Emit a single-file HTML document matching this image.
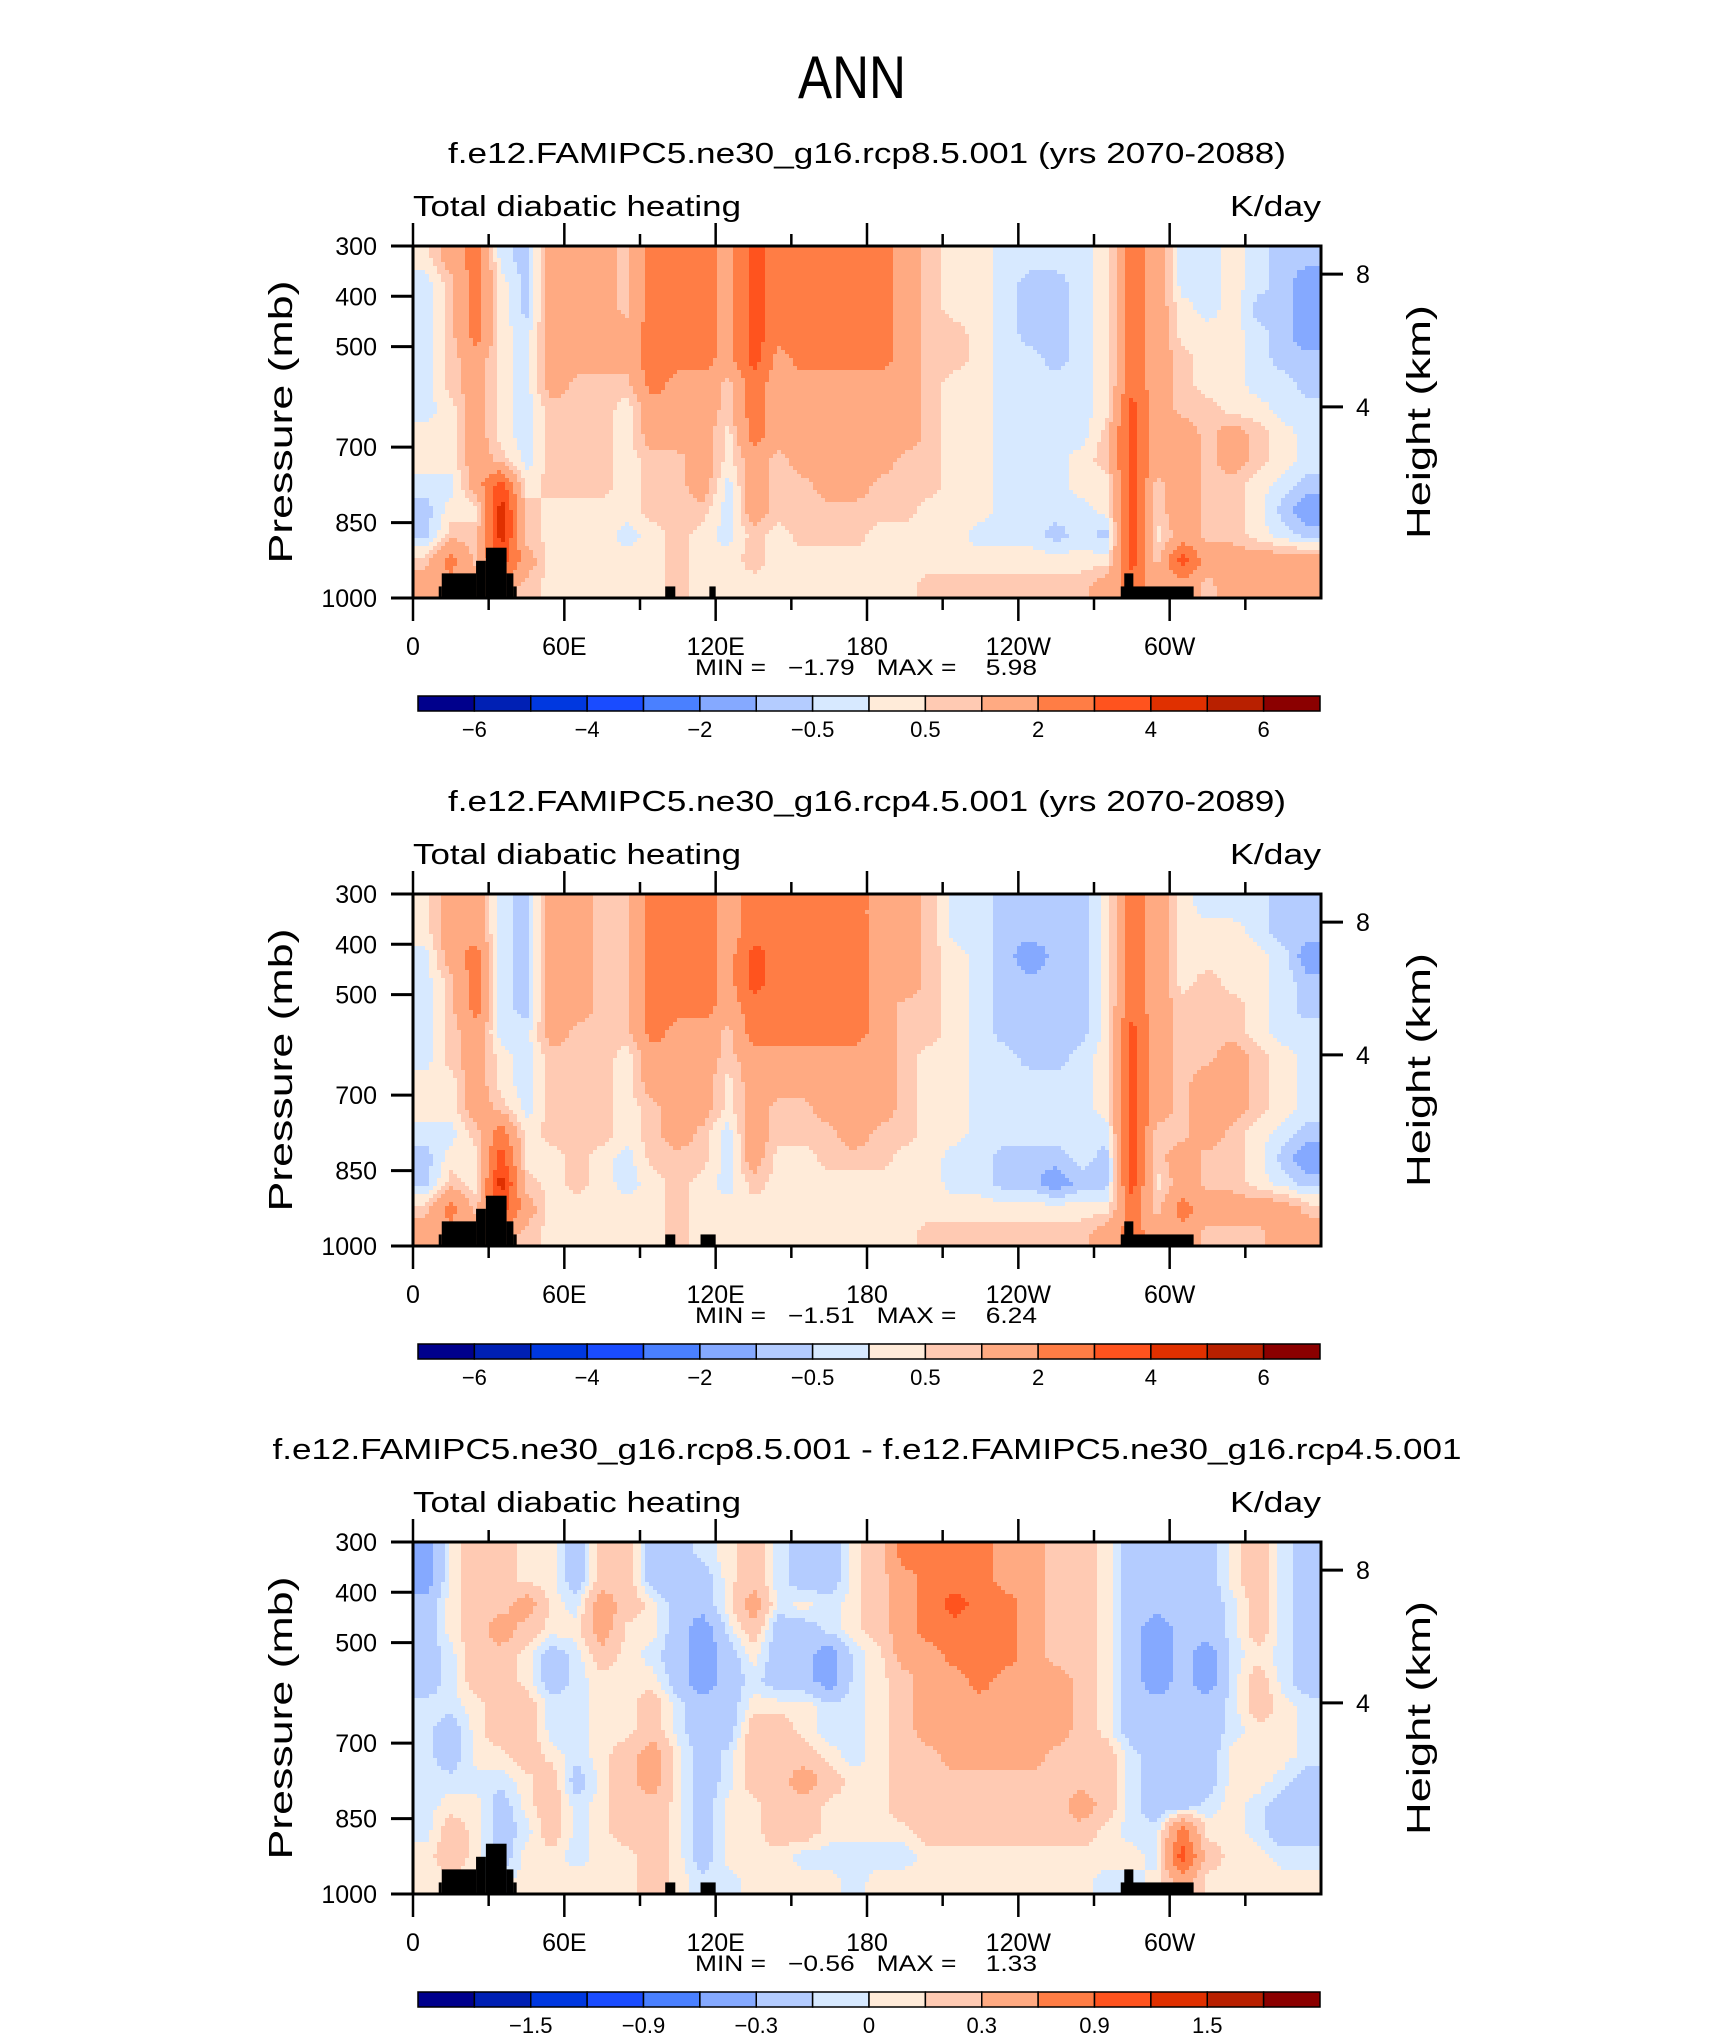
<!DOCTYPE html>
<html><head><meta charset="utf-8"><title>ANN Total diabatic heating</title>
<style>
html,body{margin:0;padding:0;background:#fff;}
svg{display:block;font-family:"Liberation Sans",sans-serif;}
</style></head>
<body>
<svg id="fig" width="1710" height="2038" viewBox="0 0 1710 2038" xmlns="http://www.w3.org/2000/svg">
<rect width="1710" height="2038" fill="#fff"/>
<text x="852" y="98" font-size="60" text-anchor="middle" textLength="108" lengthAdjust="spacingAndGlyphs" fill="#000" font-weight="normal">ANN</text>
<g id="panels"></g>
</svg>
<script>
// ---- data ----
const lonCenters = [5,15,25,35,45,55,65,75,85,95,105,115,125,135,145,155,165,175,185,195,205,215,225,235,245,255,265,275,285,295,305,315,325,335,345,355];
const presCenters = [325,375,425,475,525,575,625,675,725,775,825,875,925,975];
const levels12 = [-6,-5,-4,-3,-2,-1,-0.5,0,0.5,1,2,3,4,5,6];
const levelsDiff = [-1.8,-1.5,-1.2,-0.9,-0.6,-0.3,-0.1,0,0.1,0.3,0.6,0.9,1.2,1.5,1.8];
const cbLabels12 = ["−6","−4","−2","−0.5","0.5","2","4","6"];
const cbLabelsDiff = ["−1.5","−0.9","−0.3","0","0.3","0.9","1.5"];
const xTickLons = [0,60,120,180,240,300];
const xTickLabels = ["0","60E","120E","180","120W","60W"];
const pTicks = [300,400,500,700,850,1000];
const zTicks = [8,4];
const zTickPres = [356,620];
const colors = ['#00008c','#0020b4','#0038e0','#1a4cff','#4a80ff','#85a9ff','#b4ccff','#d7e9ff','#ffebd9','#ffcab3','#ffaa82','#ff7d45','#ff531e','#e03000','#b82000','#8b0000'];
const titles = ["f.e12.FAMIPC5.ne30_g16.rcp8.5.001 (yrs 2070-2088)","f.e12.FAMIPC5.ne30_g16.rcp4.5.001 (yrs 2070-2089)","f.e12.FAMIPC5.ne30_g16.rcp8.5.001 - f.e12.FAMIPC5.ne30_g16.rcp4.5.001"];
const minVals = [-1.79,-1.51,-0.56];
const maxVals = [5.98,6.24,1.33];
const topoLon0A = [10.2,11.4,25,28.9,37.1,39.8,100,117.5,280.6,282];
const topoLon1A = [11.4,25,28.9,37.1,39.8,41.1,104,120,309.5,285.6];
const topoPA = [977,951,926,900,951,977,977,977,977,951];
const topoLon0B = [10.2,11.4,25,28.9,37.1,39.8,100,114,280.6,282];
const topoLon1B = [11.4,25,28.9,37.1,39.8,41.1,104,120,309.5,285.6];
const topoPB = [977,951,926,900,951,977,977,977,977,951];

const field1 = [
[.25,1.5,2.5,-.25,-.75,1.5,1.5,1.5,.75,2.5,2.5,2.5,1.5,3.5,2.5,2.5,2.5,2.5,2.5,1.5,.75,.25,.25,-.25,-.25,-.25,-.25,.25,2.5,1.5,-.25,-.25,.25,-.25,-.75,-.75],
[-.25,.75,2.5,.25,-.75,1.5,1.5,1.5,.75,2.5,2.5,2.5,1.5,3.5,2.5,2.5,2.5,2.5,2.5,1.5,.75,.25,.25,-.25,-.75,-.75,-.25,.25,2.5,1.5,-.25,-.25,.25,-.25,-.75,-1.5],
[-.25,.75,2.5,.25,-.75,1.5,1.5,1.5,.75,2.5,2.5,2.5,1.5,3.5,2.5,2.5,2.5,2.5,2.5,1.5,.75,.25,.25,-.25,-.75,-.75,-.25,.25,2.5,1.5,.25,-.25,.25,-.75,-.75,-1.5],
[-.25,.75,2.5,.25,-.25,1.5,1.5,1.5,1.5,2.5,2.5,2.5,1.5,3.5,2.5,2.5,2.5,2.5,2.5,1.5,.75,.75,.25,-.25,-.75,-.75,-.25,.25,2.5,1.5,.25,.25,.25,-.25,-.75,-1.5],
[-.25,.75,1.5,.25,-.25,1.5,1.5,1.5,1.5,2.5,2.5,2.5,1.5,3.5,1.5,2.5,2.5,2.5,2.5,1.5,.75,.75,.25,-.25,-.25,-.75,-.25,.25,2.5,1.5,.75,.25,.25,-.25,-.75,-.75],
[-.25,.75,1.5,.25,-.25,1.5,.75,.75,.75,2.5,1.5,1.5,.75,2.5,1.5,1.5,1.5,1.5,1.5,1.5,.75,.25,.25,-.25,-.25,-.25,-.25,.25,2.5,1.5,.75,.25,.25,-.25,-.25,-.75],
[-.25,.25,1.5,.25,-.25,.75,.75,.75,.25,1.5,1.5,1.5,.75,2.5,1.5,1.5,1.5,1.5,1.5,1.5,.75,.25,.25,-.25,-.25,-.25,-.25,.25,3.5,1.5,.75,.75,.25,.25,-.25,-.25],
[.25,.25,1.5,.25,-.25,.75,.75,.75,.25,1.5,1.5,1.5,.25,2.5,1.5,1.5,1.5,1.5,1.5,1.5,.75,.25,.25,-.25,-.25,-.25,-.25,.75,3.5,1.5,1.5,.75,1.5,.75,.25,-.25],
[.25,.25,1.5,.75,-.25,.75,.75,.75,.25,.75,.75,1.5,.25,1.5,.75,1.5,1.5,1.5,1.5,.75,.75,.25,.25,-.25,-.25,-.25,.25,.75,3.5,1.5,1.5,.75,1.5,.75,.25,-.25],
[-.25,-.25,1.5,3.5,.25,.75,.75,.75,.25,.75,.75,1.5,-.25,1.5,.75,.75,1.5,1.5,.75,.75,.75,.25,.25,-.25,-.25,-.25,.25,.25,3.5,.75,1.5,.75,.75,.25,-.25,-.75],
[-.75,.25,.25,4.5,.75,.25,.25,.25,.25,.75,.75,.75,-.25,1.5,.75,.75,.75,.75,.75,.75,.25,.25,.25,-.25,-.25,-.25,-.25,.25,3.5,.75,1.5,.75,.75,.25,-.75,-1.5],
[-.75,.75,.75,4.5,.75,.25,.25,.25,-.25,.25,.75,.25,-.25,.75,.25,.75,.75,.75,.25,.25,.25,.25,-.25,-.25,-.25,-.75,-.25,-.75,3.5,.25,1.5,.75,.75,.25,-.25,-.75],
[.75,2.5,.75,3.5,1.5,.25,.25,.25,.25,.25,.75,.25,.25,.75,.25,.25,.25,.25,.25,.25,.25,.25,.25,.25,.25,.25,.25,.25,3.5,.75,3.5,1.5,1.5,1.5,1.5,1.5],
[1.5,1.5,1.5,1.5,.75,.25,.25,.25,.25,.25,.75,.25,.25,.25,.25,.25,.25,.25,.25,.25,.75,.75,.75,.75,.75,.75,.75,1.5,2.5,1.5,1.5,.75,1.5,1.5,1.5,1.5]
];
const field2 = [
[.25,1.5,1.5,-.25,-.75,1.5,1.5,.75,.75,2.5,2.5,2.5,1.5,2.5,2.5,2.5,2.5,2.5,1.5,1.5,.75,-.25,-.25,-.75,-.75,-.75,-.75,.25,2.5,1.5,.25,-.25,-.25,-.25,-.75,-.75],
[.25,1.5,1.5,-.25,-.75,1.5,1.5,.75,.75,2.5,2.5,2.5,1.5,2.5,2.5,2.5,2.5,2.5,1.5,1.5,.75,-.25,-.25,-.75,-.75,-.75,-.75,.25,2.5,1.5,.25,.25,.25,-.25,-.75,-.75],
[-.25,1.5,2.5,-.25,-.75,1.5,1.5,.75,.75,2.5,2.5,2.5,1.5,3.5,2.5,2.5,2.5,2.5,1.5,1.5,.75,.25,-.25,-.75,-1.5,-.75,-.75,.25,2.5,1.5,.25,.25,.25,.25,-.25,-1.5],
[-.25,.75,2.5,-.25,-.75,1.5,1.5,.75,.75,2.5,2.5,2.5,1.5,3.5,2.5,2.5,2.5,2.5,1.5,1.5,.75,.25,-.25,-.75,-.75,-.75,-.75,.25,2.5,1.5,.25,.75,.25,.25,-.25,-.75],
[-.25,.75,2.5,-.25,-.75,1.5,1.5,.75,.75,2.5,2.5,2.5,1.5,2.5,2.5,2.5,2.5,2.5,1.5,.75,.75,.25,-.25,-.75,-.75,-.75,-.75,.25,2.5,1.5,.75,.75,.75,.25,-.25,-.75],
[-.25,.75,1.5,-.25,-.25,1.5,.75,.75,.75,2.5,1.5,1.5,.75,2.5,2.5,2.5,2.5,2.5,1.5,.75,.75,.25,-.25,-.75,-.75,-.75,-.75,.25,3.5,1.5,.75,.75,.75,.25,-.25,-.25],
[-.25,.75,1.5,.25,-.25,.75,.75,.75,.25,1.5,1.5,1.5,.75,1.5,1.5,1.5,1.5,1.5,1.5,.75,.25,.25,-.25,-.25,-.75,-.75,-.25,.25,3.5,1.5,.75,.75,1.5,.75,.25,-.25],
[.25,.25,1.5,.25,-.25,.75,.75,.75,.25,1.5,1.5,1.5,.25,1.5,1.5,1.5,1.5,1.5,1.5,.75,.25,.25,-.25,-.25,-.25,-.25,-.25,.25,3.5,1.5,.75,1.5,1.5,.75,.25,-.25],
[.25,.25,1.5,.75,-.25,.75,.75,.75,.25,.75,1.5,1.5,.25,1.5,.75,.75,1.5,1.5,1.5,.75,.25,.25,-.25,-.25,-.25,-.25,-.25,.25,3.5,1.5,.75,1.5,1.5,.75,.25,-.25],
[-.25,-.25,.75,2.5,.25,.75,.75,.75,.25,.75,1.5,.75,-.25,1.5,.75,.75,.75,1.5,.75,.75,.25,.25,-.25,-.25,-.25,-.25,-.25,-.25,3.5,.75,.75,1.5,.75,.25,-.25,-.75],
[-.75,.25,.25,3.5,.25,.25,.75,.25,-.25,.75,.75,.75,-.25,1.5,.25,.25,.75,.75,.75,.25,.25,-.25,-.25,-.75,-.75,-.75,-.25,-.75,3.5,.75,1.5,.75,.75,.25,-.75,-1.5],
[-.75,.75,.25,4.5,.75,.25,.75,.25,-.25,.25,.75,.25,-.25,.75,.25,.25,.25,.25,.25,.25,.25,-.25,-.25,-.75,-.75,-1.5,-.75,-.75,3.5,.25,1.5,.75,.75,.25,-.25,-.75],
[.75,2.5,.75,3.5,1.5,.25,.25,.25,.25,.25,.75,.25,.25,.25,.25,.25,.25,.25,.25,.25,.25,.25,.25,.25,.25,.25,.25,.25,2.5,.75,2.5,1.5,1.5,1.5,1.5,.75],
[1.5,1.5,1.5,1.5,.75,.25,.25,.25,.25,.25,.75,.25,.25,.25,.25,.25,.25,.25,.25,.25,.75,.75,.75,.75,.75,.75,.75,1.5,2.5,1.5,1.5,.75,.75,.75,1.5,1.5]
];
const field3 = [
[-.45,.05,.2,.2,.05,.05,-.2,.2,.2,-.2,-.2,-.05,.05,.2,-.05,-.2,-.2,.05,.2,.75,.75,.75,.75,.45,.45,.2,.2,.05,-.2,-.2,-.2,-.2,.05,.2,-.05,-.2],
[-.45,.05,.2,.2,.05,.05,-.2,.2,.2,-.2,-.2,-.2,.05,.2,-.05,-.2,-.2,.05,.2,.45,.75,.75,.75,.45,.45,.2,.2,.05,-.2,-.2,-.2,-.2,.05,.2,-.05,-.2],
[-.2,.05,.2,.2,.45,.05,-.05,.45,.2,.05,-.2,-.2,.05,.45,-.05,.05,-.05,.05,.2,.45,.75,1.05,.75,.75,.45,.2,.2,.05,-.2,-.2,-.2,-.2,-.05,.2,-.05,-.2],
[-.2,.05,.2,.45,.2,.05,.05,.45,.05,.05,-.2,-.45,-.05,.2,-.2,-.2,-.05,.05,.2,.45,.75,.75,.75,.75,.45,.2,.2,.05,-.2,-.45,-.2,-.2,-.05,.2,-.05,-.2],
[-.2,-.05,.2,.2,.05,-.2,-.05,.2,.05,-.05,-.2,-.45,-.2,.05,-.2,-.2,-.45,-.05,.05,.45,.45,.75,.75,.75,.45,.2,.2,.05,-.2,-.45,-.2,-.45,-.05,.05,-.05,-.2],
[-.2,-.05,.2,.2,.05,-.2,-.05,.05,.05,.05,-.2,-.45,-.2,-.05,-.2,-.2,-.45,-.05,.05,.2,.45,.45,.75,.45,.45,.45,.2,.05,-.2,-.45,-.2,-.45,-.05,.2,-.05,-.2],
[-.05,-.05,.05,.2,.2,-.05,-.05,.05,.05,.2,-.05,-.2,-.2,.05,.05,.05,-.05,-.05,.05,.2,.45,.45,.45,.45,.45,.45,.2,.05,-.2,-.2,-.2,-.2,-.05,.2,.05,-.05],
[-.05,-.2,.05,.2,.2,-.05,-.05,.05,.05,.2,-.05,-.2,-.2,.2,.2,.05,-.05,-.05,.05,.2,.45,.45,.45,.45,.45,.45,.2,.05,-.2,-.2,-.2,-.2,-.05,.05,.05,-.05],
[-.05,-.2,.05,.05,.2,.05,-.05,.05,.2,.45,.05,-.2,-.05,.2,.2,.2,.05,-.05,.05,.2,.2,.45,.45,.45,.45,.2,.2,.2,-.05,-.2,-.2,-.2,.05,.05,.05,-.05],
[-.05,-.05,-.05,-.05,.05,.2,-.2,.05,.2,.45,.05,-.2,-.05,.2,.2,.45,.2,.05,.05,.2,.2,.2,.2,.2,.2,.2,.2,.2,-.05,-.2,-.2,-.2,.05,.05,-.05,-.2],
[-.05,.05,.05,-.2,.05,.2,-.05,.05,.2,.2,.05,-.2,.05,.05,.2,.2,.05,.05,.05,.2,.2,.2,.2,.2,.2,.2,.45,.2,-.05,-.2,-.2,-.05,.05,-.05,-.2,-.2],
[-.05,.2,.05,-.2,-.05,.2,-.05,.05,.2,.2,.05,-.2,.05,.05,.2,.2,.05,.05,.05,.05,.2,.2,.2,.2,.2,.2,.2,.05,-.05,-.05,.75,.05,.05,-.05,-.2,-.2],
[.05,.2,.05,-.2,.05,.05,-.05,.05,.05,.2,.05,-.2,.05,.05,.05,-.05,-.05,-.05,-.05,-.05,.05,.05,.05,.05,.05,.05,.05,.05,.05,-.05,1.05,.2,.05,.05,-.05,-.05],
[.05,.05,.05,-.05,.05,.05,.05,.05,.05,.2,.05,-.05,-.05,.05,.05,.05,.05,-.05,.05,.05,.05,.05,.05,.05,.05,.05,.05,-.05,-.05,.05,.45,.05,.05,.05,.05,.05]
];

// ---- drawing ----
const NS = "http://www.w3.org/2000/svg";
const root = document.getElementById('panels');
const X0 = 413, X1 = 1321, PH = 352, PTOP = 246, STEP = 648;
function mk(tag, attrs, parent){ const e=document.createElementNS(NS,tag); for(const k in attrs) e.setAttribute(k,attrs[k]); parent.appendChild(e); return e; }
function xScale(lon){ return X0 + lon/360*(X1-X0); }
function yScale(p, y0){ return y0 + (p-300)/700*PH; }
function classify(v, lv){ let c=0; while(c<lv.length && v>=lv[c]) c++; return c; }
function sample(field, lon, p){
  let fi = (lon-5)/10, fj = (p-325)/50;
  fi = Math.max(0, Math.min(lonCenters.length-1, fi));
  fj = Math.max(0, Math.min(presCenters.length-1, fj));
  const i0=Math.floor(fi), j0=Math.floor(fj);
  const i1=Math.min(i0+1,lonCenters.length-1), j1=Math.min(j0+1,presCenters.length-1);
  const a=fi-i0, b=fj-j0;
  return (1-a)*(1-b)*field[j0][i0] + a*(1-b)*field[j0][i1] + (1-a)*b*field[j1][i0] + a*b*field[j1][i1];
}

const panelFields = [field1, field2, field3];
const panelLevels = [levels12, levels12, levelsDiff];
const panelCb = [cbLabels12, cbLabels12, cbLabelsDiff];
const panelTopo = [[topoLon0A,topoLon1A,topoPA],[topoLon0B,topoLon1B,topoPB],[topoLon0B,topoLon1B,topoPB]];

for (let k=0;k<3;k++){
  const y0 = PTOP + k*STEP, y1 = y0 + PH;
  const g = mk('g',{},root);
  
  
  const field = panelFields[k], lv = panelLevels[k];

  const t = mk('text',{x:867,y:y0-83,'font-size':29,'text-anchor':'middle',textLength:k==2?1189:838,lengthAdjust:'spacingAndGlyphs'},g);
  t.textContent = titles[k];
  
  
  const lt = mk('text',{x:X0,y:y0-30,'font-size':29,textLength:328,lengthAdjust:'spacingAndGlyphs'},g);
  lt.textContent = 'Total diabatic heating';
  
  
  const ut = mk('text',{x:X1,y:y0-30,'font-size':29,'text-anchor':'end',textLength:91,lengthAdjust:'spacingAndGlyphs'},g);
  ut.textContent = 'K/day';
  
  

  const cg = mk('g',{'shape-rendering':'crispEdges'},g);
  
  
  const NX=227, NY=88;
  const dx=(X1-X0)/NX, dy=PH/NY;
  for (let j=0;j<NY;j++){
    const p = 300 + (j+0.5)/NY*700;
    let start=0, cur=classify(sample(field,(0.5)/NX*360,p),lv);
    for (let i=1;i<=NX;i++){
      const c = i<NX ? classify(sample(field,(i+0.5)/NX*360,p),lv) : -1;
      if (c!==cur){
        const r = mk('rect',{x:(X0+start*dx).toFixed(2),y:(y0+j*dy).toFixed(2),width:((i-start)*dx+0.6).toFixed(2),height:(dy+0.6).toFixed(2),fill:colors[cur]},cg);
        
        
        start=i; cur=c;
      }
    }
  }
  const [tl0,tl1,tp] = panelTopo[k];
  for (let m=0;m<tl0.length;m++){
    const r = mk('rect',{x:xScale(tl0[m]),y:yScale(tp[m],y0),width:xScale(tl1[m])-xScale(tl0[m]),height:y1-yScale(tp[m],y0),fill:'#000'},g);
    
    
  }
  const fr = mk('rect',{x:X0,y:y0,width:X1-X0,height:PH,fill:'none',stroke:'#000','stroke-width':3},g);
  
  

  for (let lon=0; lon<360; lon+=30){
    const major = lon%60===0, x=xScale(lon);
    const len = major?23:12;
    const a = mk('line',{x1:x,x2:x,y1:y0-len,y2:y0,stroke:'#000','stroke-width':2.5},g);
    
    
    const b = mk('line',{x1:x,x2:x,y1:y1,y2:y1+len,stroke:'#000','stroke-width':2.5},g);
    
    
  }
  for (let m=0;m<xTickLons.length;m++){
    const tx = mk('text',{x:xScale(xTickLons[m]),y:y1+57,'font-size':25,'text-anchor':'middle'},g);
    tx.textContent = xTickLabels[m];
    
    
  }
  for (let m=0;m<pTicks.length;m++){
    const y=yScale(pTicks[m],y0);
    const l = mk('line',{x1:391,x2:X0,y1:y,y2:y,stroke:'#000','stroke-width':3},g);
    
    
    const tx = mk('text',{x:377,y:y+9,'font-size':25,'text-anchor':'end'},g);
    tx.textContent = String(pTicks[m]);
    
    
  }
  for (let m=0;m<zTicks.length;m++){
    const y=yScale(zTickPres[m],y0);
    const l = mk('line',{x1:X1,x2:1343,y1:y,y2:y,stroke:'#000','stroke-width':3},g);
    
    
    const tx = mk('text',{x:1356,y:y+9,'font-size':25},g);
    tx.textContent = String(zTicks[m]);
    
    
  }
  const yc = y0+PH/2;
  const ya = mk('text',{x:0,y:0,'font-size':33,'text-anchor':'middle',textLength:283,lengthAdjust:'spacingAndGlyphs',transform:`translate(292 ${yc}) rotate(-90)`},g);
  ya.textContent = 'Pressure (mb)';
  
  
  const yb = mk('text',{x:0,y:0,'font-size':33,'text-anchor':'middle',textLength:234,lengthAdjust:'spacingAndGlyphs',transform:`translate(1430 ${yc}) rotate(-90)`},g);
  yb.textContent = 'Height (km)';
  
  

  const mm = mk('text',{x:866,y:y1+77,'font-size':22,'text-anchor':'middle',style:'white-space:pre',textLength:342,lengthAdjust:'spacingAndGlyphs'},g);
  mm.textContent = 'MIN =   ' + (minVals[k]<0?'−':'') + Math.abs(minVals[k]).toFixed(2) + '   MAX =    ' + maxVals[k].toFixed(2);
  
  

  const cbX0=418, cbX1=1320, cbY=y1+98, cbH=15, bw=(cbX1-cbX0)/16;
  const cb = mk('g',{},g);
  
  
  for (let c=0;c<16;c++){
    const r = mk('rect',{x:cbX0+c*bw,y:cbY,width:bw,height:cbH,fill:colors[c],stroke:'#000','stroke-width':1.5},cb);
    
    
  }
  const labs = panelCb[k];
  for (let m=0;m<labs.length;m++){
    const kk = k<2 ? 1+2*m : 2+2*m;
    const tx = mk('text',{x:cbX0+kk*bw,y:cbY+41,'font-size':22,'text-anchor':'middle'},cb);
    tx.textContent = labs[m];
    
    
  }
}
</script>
</body></html>
